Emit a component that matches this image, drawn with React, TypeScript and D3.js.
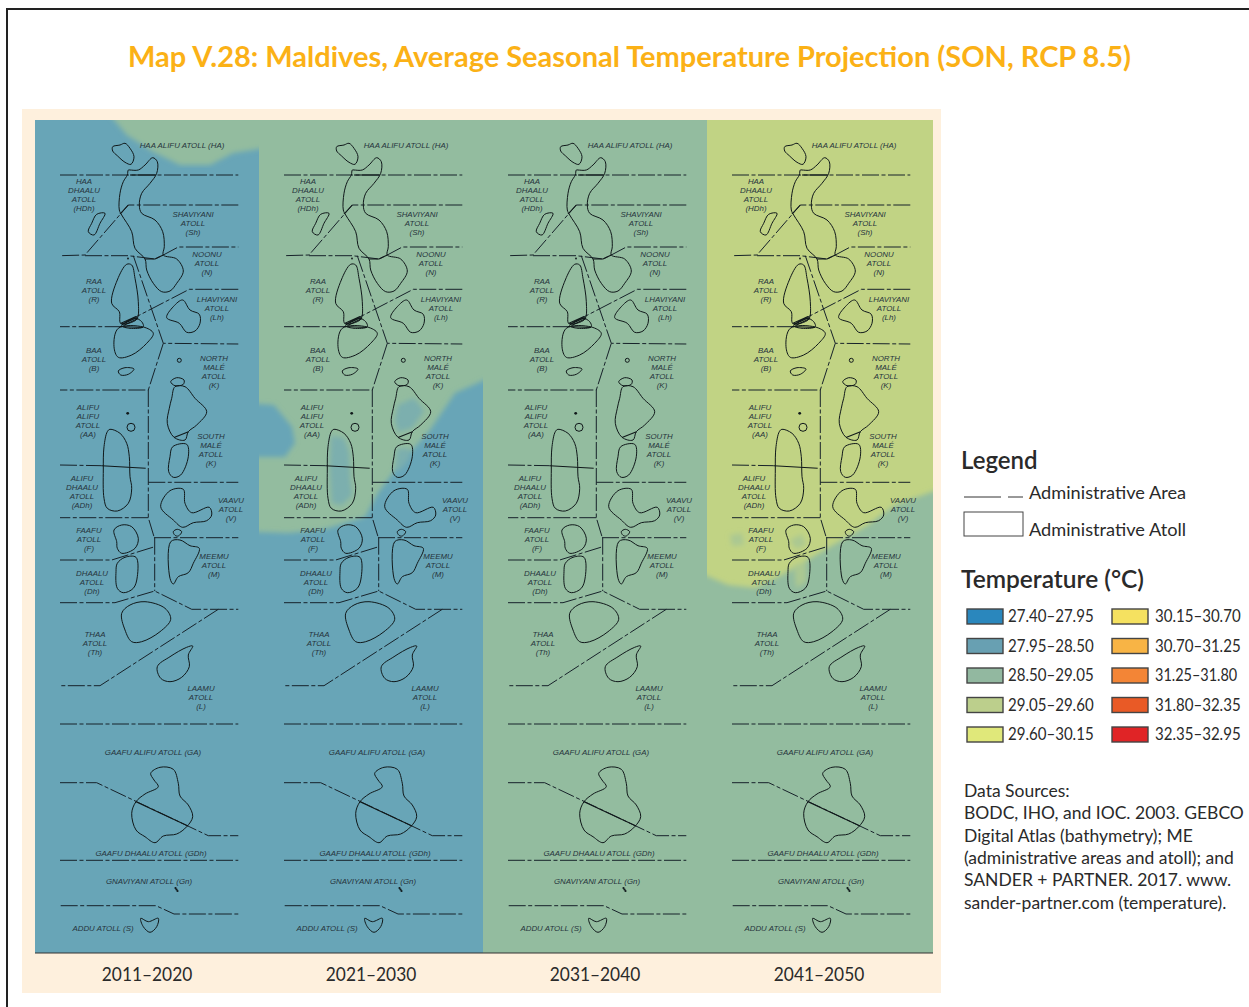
import React from 'react';
import * as d3 from 'd3';

type Pt = [number, number];

const W = 1249, H = 1007;
const FONT = 'Lato, "Noto Sans", sans-serif';

const decades = ['2011–2020', '2021–2030', '2031–2040', '2041–2050'];

// temperature classes, legend order
const tempRanges = ['27.40–27.95', '27.95–28.50', '28.50–29.05', '29.05–29.60', '29.60–30.15', '30.15–30.70', '30.70–31.25', '31.25–31.80', '31.80–32.35', '32.35–32.95'];
const tempColors = ['#2a87bd', '#68a0b2', '#92b8a0', '#bccf8c', '#e0e87a', '#f5e160', '#f8b445', '#f38536', '#e95a26', '#e02426'];
// the map raster is a little lighter than the legend swatches; last two are the mottled in-between tones
const fieldColors = ['#2a87bd', '#68a5b7', '#93bc9f', '#c1d384', '#abc892', '#7cafae'];

const sourceLines = ['Data Sources:', 'BODC, IHO, and IOC. 2003. GEBCO', 'Digital Atlas (bathymetry); ME', '(administrative areas and atoll); and', 'SANDER + PARTNER. 2017. www.', 'sander-partner.com (temperature).'];

// atoll outlines, map units of the first panel
const atolls: Pt[][] = [
  [[112.7, 146.7], [120, 145], [125, 143.3], [130, 148.3], [134, 156.7], [131, 164.3], [125, 162.3], [117.3, 155.7], [112.7, 151]],
  [[130, 170], [138.3, 170], [145, 165], [152.7, 157.7], [157.3, 161.7], [156.7, 173.3], [150, 183.3], [141.7, 193.3], [139.3, 205], [141.7, 213.3], [155, 220], [162.7, 231.7], [164.3, 246.7], [163.3, 255], [176.7, 259], [183.3, 271], [176.7, 283.3], [170, 291], [161.7, 291.7], [153.3, 283.3], [146.7, 270], [145, 259], [135, 248.3], [131.7, 231.7], [121.7, 215], [119.3, 210], [120, 193.3], [123.3, 181.7], [127.3, 175], [128.3, 170]],
  [[96.7, 214.3], [105, 213.3], [100, 223.3], [94, 235], [88.3, 231.7], [91.7, 223.3]],
  [[126.7, 264.3], [131.7, 265], [135, 278.3], [138.3, 301.7], [137.3, 318.3], [131.7, 322.3], [120.7, 323.3], [119.3, 311.7], [111.7, 303.3], [117.3, 280]],
  [[121.7, 325.7], [135, 318.3], [141.7, 321.7], [143.3, 326.7], [130, 328.3]],
  [[118.3, 328.3], [143.3, 327], [153.3, 333.3], [146.7, 343.3], [131.7, 355], [118.3, 357.3], [114, 346.7]],
  [[118.3, 371], [125, 367.7], [134, 369], [128.3, 374.3], [120.7, 375]],
  [[166.7, 317.7], [173.3, 306.7], [182.7, 300], [190, 310], [199.3, 314.3], [200, 323.3], [195, 331], [186.7, 332.3], [179.3, 323.3]],
  [[170.7, 381.7], [176.7, 377.7], [184, 380], [183.3, 384.3], [175, 385.7]],
  [[175, 386.7], [185, 386.7], [195, 398.3], [206.7, 411.7], [196.7, 425], [188.3, 431.7], [185, 440], [174, 437.3], [167.3, 423.3], [169.3, 408.3], [171.7, 398.3]],
  [[172.7, 446.7], [186.7, 444.3], [188.3, 456.7], [180.7, 475], [173.3, 477.3], [168.7, 471.7], [170, 456.7]],
  [[110, 429.3], [120, 433.3], [126.7, 443.3], [129.3, 456.7], [130, 476.7], [131.7, 488.3], [128.3, 503.3], [117.3, 511], [107.3, 508.3], [104, 498.3], [103.3, 470], [104, 446.7], [107.3, 431.7]],
  [[160.7, 506.7], [170, 490.7], [183.3, 489.3], [185, 503.3], [191.7, 512.7], [209.3, 507.3], [211.7, 515], [206.7, 520.7], [193.3, 522.7], [182.7, 527.3], [173.3, 520]],
  [[173.3, 531.7], [177.3, 529.3], [181.7, 531.7], [178.3, 536], [175, 535.3]],
  [[170.7, 541.7], [180, 540], [190, 545.7], [199.3, 548.3], [193.3, 563.3], [188.3, 572.7], [178.3, 576.7], [173.3, 584], [170, 578.3]],
  [[114, 530], [121.7, 525], [131.7, 526.7], [138.3, 538.3], [135, 548.3], [121.7, 553.3], [117.3, 548.3], [116.7, 541.7]],
  [[117.3, 563.3], [125, 557.3], [136, 557.3], [137.3, 576.7], [133.3, 588.3], [123.3, 592.7], [117.3, 588.3], [116, 571.7]],
  [[121.7, 613.3], [130, 605], [145, 601.7], [165, 608.3], [170.7, 619.3], [160, 631.7], [141.7, 641.7], [131.7, 641.7], [125, 630]],
  [[157.3, 666.7], [170, 656.7], [186.7, 647.3], [192.7, 646], [188.3, 655], [189.3, 666.7], [181.7, 677.3], [170, 681.7], [160.7, 678.3]],
  [[150.7, 773.3], [160, 767.3], [173.3, 769.3], [178.3, 783.3], [180, 796], [188.3, 805], [192.7, 816.7], [186.7, 826.7], [176.7, 834], [163.3, 836], [155, 842.7], [145, 836.7], [136, 830], [131.7, 813.3], [136, 801.7], [145, 794], [158.3, 786.7], [154, 780]],
  [[140.7, 918.3], [148.3, 921.7], [158.3, 918.3], [156.7, 926.7], [150, 932.3], [143.3, 926.7]],
];

// tiny round islands: x, y, r
const islets: [number, number, number][] = [[179.3, 360.3, 2], [131, 427.3, 4]];
const islandDots: [number, number, number][] = [[127.7, 413.3, 1.4], [175.5, 888, 1.1], [176.5, 889.5, 1.1], [177.5, 891, 1.1], [128, 258.5, 0.9]];

// administrative area boundaries, dash-dot
const boundaries: Pt[][] = [
  [[60, 175], [238.3, 175]],
  [[238.3, 205], [128.3, 205], [85, 255], [60, 255.7]],
  [[85, 255.7], [128.3, 255.7], [155, 259], [163.3, 255], [178.3, 247], [238.3, 247]],
  [[133.3, 255.7], [163.3, 343.3], [238.3, 344]],
  [[163.3, 343.3], [148.3, 390], [60, 390]],
  [[148.3, 390], [148.3, 517.7], [154, 536.7]],
  [[148.3, 517.7], [60, 517.7]],
  [[154, 537.7], [238.3, 537.7]],
  [[148.3, 482.3], [238.3, 482.3]],
  [[60, 465], [101.7, 465.7]],
  [[154.7, 537.7], [154.7, 591]],
  [[60, 560], [111.7, 560], [154.7, 546.7]],
  [[60, 602.7], [115, 602.7], [154.7, 591], [191.7, 609.3], [238.3, 609.3]],
  [[218.3, 609.3], [100, 685.7], [60, 685.7]],
  [[238.3, 289.3], [189.3, 289.3], [121.7, 324.3]],
  [[121.7, 326.7], [60, 326.7]],
  [[60, 724], [238.3, 724]],
  [[60, 782.7], [96.7, 782.7], [208.3, 835.7], [238.3, 835.7]],
  [[60, 860.3], [238.3, 860.3]],
  [[60.7, 905.7], [156, 905.7], [174, 914], [238.3, 914]],
];

// boundary parts that run solid across an atoll
const solidCuts: Pt[][] = [
  [[130, 175], [156, 175]],
  [[101.7, 465.7], [145.7, 468.3]],
  [[174, 437.5], [188.5, 431.7]],
  [[136, 801.7], [188, 826]],
  [[120, 326.5], [143, 327.5]],
  [[120.5, 323.5], [136, 316.5]],
  [[122, 324.5], [137, 317.5]],
  [[123.5, 325.5], [138, 318.5]],
  [[145, 259], [155, 259], [163.3, 255]],
  [[128.3, 205], [120, 214]],
];

// atoll names: centre x, baseline of first line, lines
const singleLabels: [number, number, string][] = [
  [182, 148, 'HAA ALIFU ATOLL (HA)'],
  [153, 755, 'GAAFU ALIFU ATOLL (GA)'],
  [151, 856, 'GAAFU DHAALU ATOLL (GDh)'],
  [149, 884, 'GNAVIYANI ATOLL (Gn)'],
  [103, 931, 'ADDU ATOLL (S)'],
];
const stackedLabels: [number, number, string[]][] = [
  [84, 184, ['HAA', 'DHAALU', 'ATOLL', '(HDh)']],
  [193, 217, ['SHAVIYANI', 'ATOLL', '(Sh)']],
  [207, 257, ['NOONU', 'ATOLL', '(N)']],
  [94, 284, ['RAA', 'ATOLL', '(R)']],
  [217, 302, ['LHAVIYANI', 'ATOLL', '(Lh)']],
  [94, 353, ['BAA', 'ATOLL', '(B)']],
  [214, 361, ['NORTH', 'MALÉ', 'ATOLL', '(K)']],
  [88, 410, ['ALIFU', 'ALIFU', 'ATOLL', '(AA)']],
  [211, 439, ['SOUTH', 'MALÉ', 'ATOLL', '(K)']],
  [82, 481, ['ALIFU', 'DHAALU', 'ATOLL', '(ADh)']],
  [231, 503, ['VAAVU', 'ATOLL', '(V)']],
  [89, 533, ['FAAFU', 'ATOLL', '(F)']],
  [214, 559, ['MEEMU', 'ATOLL', '(M)']],
  [92, 576, ['DHAALU', 'ATOLL', '(Dh)']],
  [95, 637, ['THAA', 'ATOLL', '(Th)']],
  [201, 691, ['LAAMU', 'ATOLL', '(L)']],
];

// raster temperature field per decade: base class + patches of other classes
const panel1Base = 1;
const panel1Patches: [number, Pt[]][] = [
  [2, [[110, 115], [126.7, 135], [153, 151.7], [180, 165], [210, 165], [233, 153], [265, 148], [265, 115]]],
];
const panel2Base = 2;
const panel2Patches: [number, Pt[]][] = [
  [1, [[25, 403], [50, 405], [68, 427], [71, 443], [61, 457], [25, 457]]],
  [1, [[25, 531.7], [64, 533], [98, 530], [141, 517], [154, 493], [171, 470], [206, 430], [231, 393], [265, 378], [265, 965], [25, 965]]],
  [5, [[107, 436], [120, 438], [125, 452], [126, 480], [128, 495], [118, 505], [108, 503], [106, 470]]],
  [5, [[174, 405], [190, 398], [200, 411], [188, 428], [174, 432], [171, 420]]],
  [5, [[173, 449], [185, 448], [186, 458], [176, 470], [171, 470]]],
];
const panel3Base = 2;
const panel3Patches: [number, Pt[]][] = [];
const panel4Base = 3;
const panel4Patches: [number, Pt[]][] = [
  [2, [[25, 571.7], [56, 585], [83, 588], [110, 575], [156, 548], [196, 525], [223, 505], [265, 490], [265, 965], [25, 965]]],
  [4, [[58, 535], [70, 533], [72, 545], [60, 546]]],
  [4, [[118, 540], [130, 534], [134, 545], [124, 549]]],
  [4, [[122, 565], [134, 562], [134, 582], [124, 588]]],
];
const panelBases = [panel1Base, panel2Base, panel3Base, panel4Base];
const panelPatches = [panel1Patches, panel2Patches, panel3Patches, panel4Patches];

const panelX = d3.scaleLinear().domain([0, 3]).range([35, 707]);
const panelW = [224, 224, 224, 226];
const mapX = d3.scaleLinear().domain([35, 259]).range([0, 224]);
const mapY = d3.scaleLinear().domain([120, 953]).range([120, 953]);

const blob = d3.line<Pt>().x(d => mapX(d[0])).y(d => mapY(d[1])).curve(d3.curveCatmullRomClosed.alpha(0.5));
const patch = d3.line<Pt>().x(d => mapX(d[0])).y(d => mapY(d[1])).curve(d3.curveLinear);

const legendRow = d3.scalePoint<number>().domain([0, 1, 2, 3, 4]).range([609, 727]);

function Panel({ i }: { i: number }) {
  const x0 = panelX(i);
  const w = panelW[i];
  return (
    <g transform={`translate(${x0},0)`}>
      <clipPath id={`clip${i}`}><rect x={0} y={120} width={w} height={833} /></clipPath>
      <g clipPath={`url(#clip${i})`}>
        <rect x={0} y={120} width={w} height={833} fill={fieldColors[panelBases[i]]} />
        <g filter="url(#soft)">
          {panelPatches[i].map(([c, pts], k) => (
            <path key={k} d={patch(pts)! + 'Z'} fill={fieldColors[c]} />
          ))}
        </g>
      </g>
      {boundaries.map((b, k) => (
        <path key={k} d={patch(b)!} fill="none" stroke="#17222a" strokeWidth={1} strokeDasharray="17 2.5 4 2.5" />
      ))}
      {solidCuts.map((b, k) => (
        <path key={k} d={patch(b)!} fill="none" stroke="#10181a" strokeWidth={1.1} />
      ))}
      {atolls.map((a, k) => (
        <path key={k} d={blob(a)!} fill="none" stroke="#10181a" strokeWidth={1} />
      ))}
      {islets.map(([x, y, r], k) => (
        <circle key={k} cx={mapX(x)} cy={mapY(y)} r={r} fill="none" stroke="#10181a" strokeWidth={1} />
      ))}
      {islandDots.map(([x, y, r], k) => (
        <circle key={k} cx={mapX(x)} cy={mapY(y)} r={r} fill="#10181a" />
      ))}
      <g fontFamily='"Liberation Sans", Arial, sans-serif' fontStyle="italic" fontSize={7.9} fill="#26343c" textAnchor="middle">
        {singleLabels.map(([x, y, t], k) => (
          <text key={k} x={mapX(x)} y={mapY(y)}>{t}</text>
        ))}
        {stackedLabels.map(([x, y, lines], k) => (
          <text key={k} x={mapX(x)} y={mapY(y)}>
            {lines.map((l, m) => <tspan key={m} x={mapX(x)} dy={m === 0 ? 0 : 9}>{l}</tspan>)}
          </text>
        ))}
      </g>
      <text transform={`translate(112,981) scale(0.867,1)`} textAnchor="middle" fontFamily={FONT} fontSize={20} fill="#2a2a2a">{decades[i]}</text>
    </g>
  );
}

export default function App() {
  return (
    <svg width={W} height={H} viewBox={`0 0 ${W} ${H}`} style={{ position: 'absolute', left: 0, top: 0, background: '#fff' }}>
      <defs>
        <filter id="soft" x="-5%" y="-5%" width="110%" height="110%"><feGaussianBlur stdDeviation="2.4" /></filter>
      </defs>
      <path d={`M7,${H}V9H${W}`} fill="none" stroke="#222" strokeWidth={2} />
      <text x={128} y={67} fontFamily={FONT} fontWeight={700} fontSize={29} fill="#fbb116" textLength={1003} lengthAdjust="spacingAndGlyphs">Map V.28: Maldives, Average Seasonal Temperature Projection (SON, RCP 8.5)</text>

      <rect x={22} y={109} width={919} height={884} fill="#fef0dd" />
      {decades.map((_, i) => <Panel key={i} i={i} />)}
      <line x1={35} x2={933} y1={953} y2={953} stroke="#333" strokeWidth={1} />

      <g fontFamily={FONT} fill="#2a2a2a">
        <text x={961} y={469} fontSize={24} fontWeight={600}>Legend</text>
        <line x1={964} x2={1001} y1={497} y2={497} stroke="#333" strokeWidth={1} />
        <line x1={1008} x2={1023} y1={497} y2={497} stroke="#333" strokeWidth={1} />
        <text x={1029} y={499} fontSize={18.2}>Administrative Area</text>
        <rect x={964} y={512} width={59} height={24} fill="#fff" stroke="#444" strokeWidth={1} />
        <text x={1029} y={536} fontSize={18.2}>Administrative Atoll</text>
        <text x={961} y={588} fontSize={24.5} fontWeight={600}>Temperature (°C)</text>
        {tempRanges.map((t, i) => {
          const col = i < 5 ? 0 : 1;
          const y = legendRow(i % 5)!;
          return (
            <g key={t} transform={`translate(${col ? 1112 : 967},${y})`}>
              <rect width={36} height={15} fill={tempColors[i]} stroke="#444" strokeWidth={1.4} />
              <text transform={`translate(${col ? 43 : 41},13) scale(${t.startsWith('31.25') ? 0.85 : 0.885},1)`} fontSize={17}>{t}</text>
            </g>
          );
        })}
        {sourceLines.map((l, i) => (
          <text key={i} x={964} y={797 + i * 22.3} fontSize={17.5}>{l}</text>
        ))}
      </g>
    </svg>
  );
}
